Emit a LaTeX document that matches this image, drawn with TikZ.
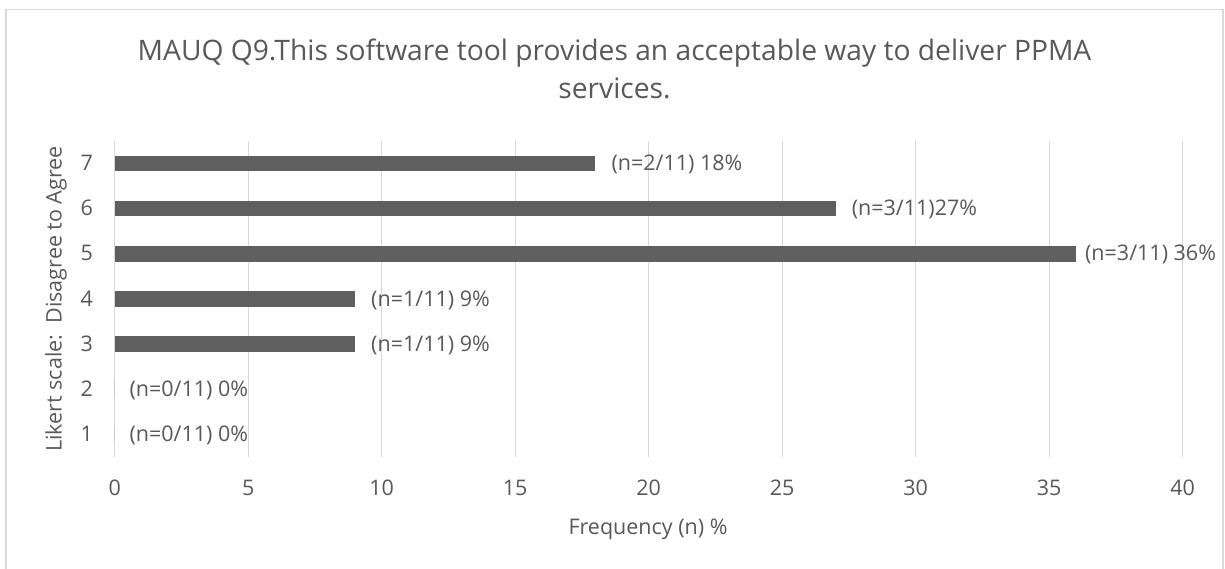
\documentclass[tikz,border=0pt]{standalone}
\usepackage{fontspec}
\setmainfont{Open Sans}
\definecolor{txtgray}{HTML}{595959}
\definecolor{barfill}{HTML}{5F5F5F}
\definecolor{gridgray}{HTML}{D9D9D9}
\tikzset{
  frameline/.style={draw=gridgray, line width=1.3pt},
  gridline/.style={draw=gridgray, line width=1.3pt},
  barrect/.style={fill=barfill},
  lbl/.style={inner sep=0pt, text=txtgray, font=\fontsize{21.5}{25}\selectfont},
  titletext/.style={inner sep=0pt, text=txtgray, font=\fontsize{28.2}{34}\selectfont},
}
\begin{document}
\begin{tikzpicture}[x=1pt,y=-1pt]
\useasboundingbox (0,0) rectangle (1225,569);
\clip (0,0) rectangle (1225,569);
\fill[white] (0,0) rectangle (1225,569);
% chart frame (bottom edge lies below the page)
\draw[frameline] (6,600) -- (6,9.5) -- (1223,9.5) -- (1223,600);
% title
\node[titletext, anchor=base] (title1) at (614.5,61) {MAUQ Q9.This software tool provides an acceptable way to deliver PPMA};
\node[titletext, anchor=base] (title2) at (614.5,99) {services.};
% vertical gridlines and value axis labels
\foreach \v in {0,5,...,40}{
  \pgfmathsetmacro\gx{114.7+\v*26.7}
  \draw[gridline] (\gx,141) -- (\gx,456.7);
  \node[lbl, anchor=base] (tick\v) at (\gx,495) {\v};
}
% bars, category labels and data labels
\foreach \k/\v/\gap/\lab in {7/18/16/{(n=2/11) 18\%}, 6/27/16/{(n=3/11)27\%}, 5/36/9/{(n=3/11) 36\%}, 4/9/16/{(n=1/11) 9\%}, 3/9/16/{(n=1/11) 9\%}, 2/0/14.6/{(n=0/11) 0\%}, 1/0/14.6/{(n=0/11) 0\%}}{
  \pgfmathsetmacro\cy{456.7-(\k-0.5)*45.1}
  \pgfmathsetmacro\ex{114.7+\v*26.7}
  \fill[barrect] (114.7,\cy-7.8) rectangle (\ex,\cy+7.8);
  \node[lbl, anchor=base west] (val\k) at (\ex+\gap,\cy+7.2) {\lab};
  \node[lbl, anchor=base east] (cat\k) at (93,\cy+7.2) {\k};
}
% axis titles
\node[lbl, anchor=base] (xtitle) at (648,534.3) {Frequency (n) \%};
\node[lbl, anchor=base, rotate=90] (ytitle) at (61.5,299) {Likert scale:\ \ Disagree to Agree};
\end{tikzpicture}
\end{document}
